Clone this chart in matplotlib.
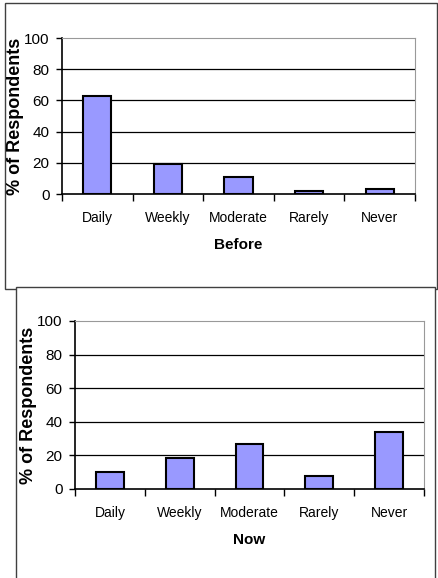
import matplotlib
matplotlib.use("Agg")
import matplotlib.pyplot as plt
from matplotlib.patches import Rectangle

plt.rcParams["font.family"] = ["Liberation Sans", "DejaVu Sans"]

categories = ["Daily", "Weekly", "Moderate", "Rarely", "Never"]
before = [63, 19, 11, 2, 3]
now = [10, 18.5, 27, 8, 34]
y_ticks = [0, 20, 40, 60, 80, 100]

W, H = 438, 578
BAR_COLOR = "#9999FF"


def px_axes(fig, left, top, right, bottom):
    ax = fig.add_axes([left / W, 1 - bottom / H, (right - left) / W, (bottom - top) / H])
    ax.set_zorder(5)
    ax.patch.set_alpha(0)
    return ax


def draw_panel(ax, values, title, title_y, title_x):
    x = range(len(categories))
    ax.bar(x, values, width=0.4, color=BAR_COLOR, edgecolor="black", linewidth=1.5, zorder=3)
    ax.set_xlim(-0.5, len(categories) - 0.5)
    ax.set_ylim(0, 100)
    ax.set_yticks(y_ticks)
    ax.tick_params(axis="y", length=4, width=1, pad=5, labelsize=11, colors="black")
    for v in y_ticks[1:-1]:
        ax.axhline(v, color="black", linewidth=0.9, zorder=1)
    # tick marks at category boundaries, labels at centres
    ax.set_xticks([i - 0.5 for i in range(len(categories) + 1)])
    ax.set_xticklabels([])
    ax.tick_params(axis="x", which="major", length=5, width=1, direction="out")
    ax.set_xticks(list(x), minor=True)
    ax.set_xticklabels(categories, minor=True, fontsize=10)
    ax.tick_params(axis="x", which="minor", length=0, pad=12)
    ax.spines["left"].set_color("black")
    ax.spines["bottom"].set_color("black")
    ax.spines["left"].set_linewidth(1.2)
    ax.spines["bottom"].set_linewidth(1.2)
    ax.spines["top"].set_color("#999999")
    ax.spines["right"].set_color("#999999")
    ax.set_ylabel("% of Respondents", fontsize=13, fontweight="bold")
    ax.yaxis.set_label_coords(-0.108, 0.5)
    ax.figure.text(title_x / W, 1 - title_y / H, title, ha="center", va="center",
                   fontsize=11, fontweight="bold", zorder=6)


fig = plt.figure(figsize=(W / 100, H / 100), dpi=100)

# outer frames
fig.patches.append(Rectangle((5 / W, 1 - 289 / H), 432 / W, 286 / H, transform=fig.transFigure,
                             facecolor="white", edgecolor="#404040", linewidth=1, zorder=0))
fig.patches.append(Rectangle((16 / W, 1 - 590 / H), 419 / W, 303 / H, transform=fig.transFigure,
                             facecolor="white", edgecolor="#404040", linewidth=1, zorder=1))

ax1 = px_axes(fig, 62, 38, 415, 194)
draw_panel(ax1, before, "Before", 245, 238)

ax2 = px_axes(fig, 75, 321, 424, 489)
draw_panel(ax2, now, "Now", 540, 249)

fig.savefig("out.png", dpi=100)
